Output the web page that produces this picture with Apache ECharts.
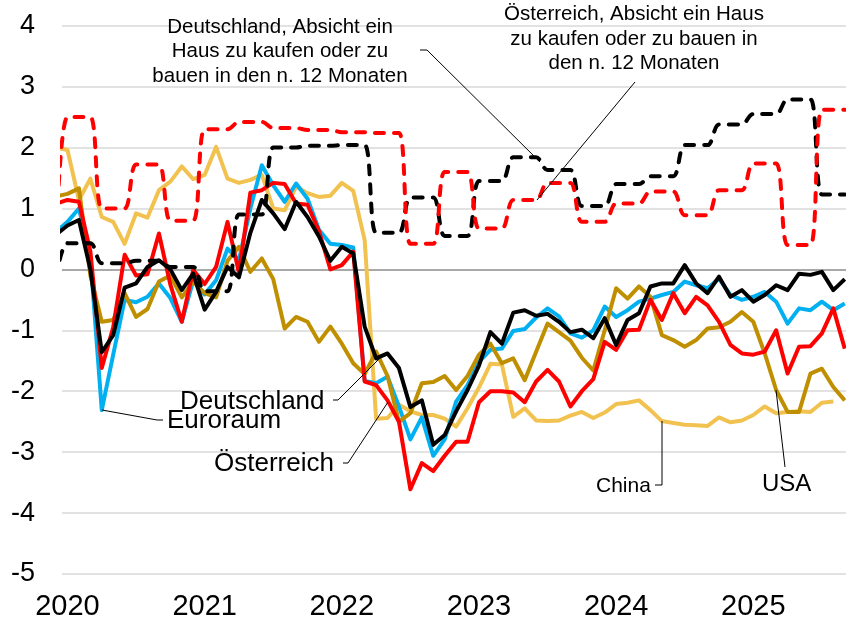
<!DOCTYPE html>
<html>
<head>
<meta charset="utf-8">
<script src="https://cdn.jsdelivr.net/npm/echarts@6.0.0/dist/echarts.min.js"></script>
<style>
  html, body { margin: 0; padding: 0; background: #fff; }
  #chart { width: 846px; height: 622px; }
</style>
</head>
<body>
<div id="chart"></div>
<script>
// monthly values, Dec 2019 .. Sep 2025 (first one sits just left of the plot)
var euroraum = [0.62, 0.78, 1.0, 0.2, -2.31, -1.4, -0.5, -0.54, -0.45, -0.23, -0.47, -0.86, -0.18,
  -0.41, -0.18, 0.34, 0.15, 1.0, 1.71, 1.38, 1.11, 1.41, 1.16, 0.65, 0.42,
  0.4, 0.36, -1.83, -1.87, -1.76, -2.25, -2.79, -2.43, -3.06, -2.79, -2.17, -1.9,
  -1.52, -1.32, -1.3, -1.01, -0.98, -0.79, -0.64, -0.77, -1.05, -1.12, -1.0, -0.61,
  -0.78, -0.67, -0.53, -0.48, -0.42, -0.37, -0.2, -0.26, -0.31, -0.15, -0.42, -0.5,
  -0.45, -0.37, -0.53, -0.89, -0.64, -0.67, -0.53, -0.67, -0.56]
var deutschland = [0.57, 0.72, 0.81, 0.0, -1.36, -1.08, -0.3, -0.23, 0.04, 0.15, 0.0, -0.34, -0.07,
  -0.66, -0.37, 0.04, -0.13, 0.6, 1.14, 0.92, 0.66, 1.11, 0.86, 0.54, 0.14,
  0.37, 0.26, -0.94, -1.46, -1.38, -1.62, -2.26, -2.15, -2.88, -2.72, -2.33, -1.98,
  -1.58, -1.03, -1.22, -0.71, -0.67, -0.76, -0.73, -0.86, -1.03, -0.99, -1.13, -0.8,
  -1.24, -0.83, -0.72, -0.28, -0.23, -0.23, 0.07, -0.23, -0.39, -0.12, -0.45, -0.34,
  -0.53, -0.42, -0.26, -0.34, -0.07, -0.09, -0.04, -0.34, -0.16]
var oesterreich = [1.08, 1.14, 1.11, 0.3, -1.62, -0.95, 0.24, -0.1, -0.08, 0.59, -0.25, -0.86, -0.01,
  -0.24, 0.04, 0.78, -0.05, 1.26, 1.3, 1.42, 1.4, 1.08, 1.06, 0.63, 0.0,
  0.07, 0.29, -1.84, -1.9, -2.15, -2.5, -3.61, -3.18, -3.31, -3.06, -2.83, -2.83,
  -2.18, -2.0, -2.0, -2.02, -2.18, -1.84, -1.65, -1.84, -2.25, -2.0, -1.8, -1.19,
  -1.32, -1.0, -0.99, -0.5, -0.83, -0.39, -0.72, -0.45, -0.59, -0.86, -1.24, -1.38,
  -1.4, -1.35, -1.0, -1.71, -1.27, -1.26, -1.05, -0.64, -1.3]
var usa = [1.2, 1.24, 1.33, -0.1, -0.86, -0.83, -0.39, -0.78, -0.65, -0.2, -0.1, -0.46, -0.2,
  -0.39, -0.46, 0.14, 0.37, -0.04, 0.18, -0.16, -0.97, -0.78, -0.86, -1.19, -0.94,
  -1.22, -1.54, -1.72, -1.35, -1.75, -2.5, -2.36, -1.87, -1.85, -1.75, -1.98, -1.75,
  -1.4, -1.22, -1.54, -1.46, -1.82, -1.35, -0.89, -1.03, -1.17, -1.45, -1.66, -1.0,
  -0.31, -0.48, -0.28, -0.45, -1.08, -1.16, -1.27, -1.16, -0.97, -0.95, -0.86, -0.7,
  -0.86, -1.38, -1.98, -2.34, -2.34, -1.71, -1.63, -1.93, -2.15]
var china = [2.0, 1.96, 1.14, 1.49, 0.86, 0.78, 0.42, 0.92, 0.85, 1.3, 1.44, 1.69, 1.48,
  1.55, 2.01, 1.49, 1.42, 1.47, 1.55, 1.0, 0.97, 1.36, 1.25, 1.19, 1.21,
  1.42, 1.29, 0.48, -2.45, -2.44, -2.22, -2.33, -2.39, -2.39, -2.45, -2.58, -2.28,
  -1.94, -1.55, -1.56, -2.42, -2.28, -2.48, -2.49, -2.48, -2.4, -2.34, -2.44, -2.35,
  -2.21, -2.19, -2.15, -2.31, -2.49, -2.52, -2.55, -2.56, -2.57, -2.43, -2.51, -2.48,
  -2.39, -2.25, -2.36, -2.34, -2.33, -2.34, -2.19, -2.17, null]
// Absicht ein Haus zu kaufen oder zu bauen (quarterly survey, shown per month)
var hausDE = [-0.15, 0.43, 0.43, 0.43, 0.1, 0.1, 0.1, 0.14, 0.14, 0.14, 0.04, 0.04, 0.04,
  -0.36, -0.36, -0.36, 0.9, 0.9, 0.9, 2.0, 2.0, 2.0, 2.03, 2.03, 2.03,
  2.04, 2.04, 2.04, 0.6, 0.6, 0.6, 1.18, 1.18, 1.18, 0.55, 0.55, 0.55,
  1.45, 1.45, 1.45, 1.84, 1.84, 1.84, 1.63, 1.63, 1.63, 1.04, 1.04, 1.04,
  1.4, 1.4, 1.4, 1.53, 1.53, 1.53, 2.04, 2.04, 2.04, 2.38, 2.38, 2.38,
  2.55, 2.55, 2.55, 2.79, 2.79, 2.79, 1.23, 1.23, 1.23]
var hausAT = [0.45, 2.5, 2.5, 2.5, 1.0, 1.0, 1.0, 1.72, 1.72, 1.72, 0.8, 0.8, 0.8,
  2.3, 2.3, 2.3, 2.42, 2.42, 2.42, 2.32, 2.32, 2.32, 2.29, 2.29, 2.29,
  2.25, 2.25, 2.25, 2.24, 2.24, 2.24, 0.42, 0.42, 0.42, 1.6, 1.6, 1.6,
  0.67, 0.67, 0.67, 1.14, 1.14, 1.14, 1.42, 1.42, 1.42, 0.78, 0.78, 0.78,
  1.08, 1.08, 1.08, 1.28, 1.28, 1.28, 0.89, 0.89, 0.89, 1.3, 1.3, 1.3,
  1.74, 1.74, 1.74, 0.4, 0.4, 0.4, 2.62, 2.62, 2.62]

var yearTicks = [0, 12, 24, 36, 48, 60]
var yearLabels = ['2020', '2021', '2022', '2023', '2024', '2025']

var FONT = '"Liberation Sans", Arial, sans-serif'

function toPoints(arr) {
  // index 0 is Dec 2019 -> month -1
  return arr.map(function (v, i) { return [i - 1, v] })
}

function solid(name, color, arr) {
  return {
    name: name,
    type: 'line',
    data: toPoints(arr),
    showSymbol: false,
    connectNulls: false,
    lineStyle: { color: color, width: 4, join: 'round' },
    itemStyle: { color: color }
  }
}

function dashed(name, color, arr) {
  return {
    name: name,
    type: 'line',
    data: toPoints(arr),
    showSymbol: false,
    smooth: 0.35,
    lineStyle: { color: color, width: 4, type: [9, 10], cap: 'round' },
    itemStyle: { color: color }
  }
}

var gridColors = ['#d9d9d9', '#d9d9d9', '#d9d9d9', '#d9d9d9', '#d9d9d9', '#8c8c8c',
  '#d9d9d9', '#d9d9d9', '#d9d9d9', '#d9d9d9']

function txt(text, x, y, size, align, vAlign, lh) {
  return {
    type: 'text',
    z: 100,
    style: {
      text: text, x: x, y: y,
      font: size + 'px ' + FONT,
      fill: '#000',
      textAlign: align,
      textVerticalAlign: vAlign,
      lineHeight: lh || size
    }
  }
}

function leader(points) {
  return {
    type: 'polyline',
    z: 100,
    shape: { points: points },
    style: { stroke: '#000', lineWidth: 1, fill: null }
  }
}

var chart = echarts.init(document.getElementById('chart'), null, { renderer: 'canvas' })

chart.setOption({
  animation: false,
  backgroundColor: '#fff',
  grid: { left: 62, right: 0, top: 25.7, bottom: 48 },
  xAxis: {
    type: 'value',
    min: -0.48,
    max: 68.11,
    axisLine: { show: false },
    axisTick: { show: false },
    splitLine: { show: false },
    axisLabel: {
      customValues: yearTicks,
      formatter: function (v) { return yearLabels[yearTicks.indexOf(v)] },
      fontFamily: FONT,
      fontSize: 29,
      color: '#000',
      margin: 18
    }
  },
  yAxis: {
    type: 'value',
    min: -5,
    max: 4,
    interval: 1,
    axisLine: { show: false },
    axisTick: { show: false },
    axisLabel: {
      fontFamily: FONT,
      fontSize: 27,
      color: '#000',
      margin: 27
    },
    splitLine: { lineStyle: { color: gridColors, width: 1.5 } }
  },
  series: [
    solid('China', '#f2c250', china),
    solid('Euroraum', '#00b0f0', euroraum),
    solid('USA', '#bf8f00', usa),
    solid('Österreich', '#ff0000', oesterreich),
    solid('Deutschland', '#000000', deutschland),
    dashed('Deutschland, Absicht ein Haus zu kaufen oder zu bauen in den n. 12 Monaten', '#000000', hausDE),
    dashed('Österreich, Absicht ein Haus zu kaufen oder zu bauen in den n. 12 Monaten', '#ff0000', hausAT)
  ],
  graphic: [
    txt('Deutschland, Absicht ein\nHaus zu kaufen oder zu\nbauen in den n. 12 Monaten', 280, 14.75, 20.5, 'center', 'top', 24.5),
    txt('Österreich, Absicht ein Haus\nzu kaufen oder zu bauen in\nden n. 12 Monaten', 634, 2.5, 20.5, 'center', 'top', 24.5),
    txt('Deutschland', 180, 402, 26, 'left', 'middle'),
    txt('Euroraum', 167, 421, 26, 'left', 'middle'),
    txt('Österreich', 214, 464, 26, 'left', 'middle'),
    txt('China', 596, 486, 21, 'left', 'middle'),
    txt('USA', 762, 484, 24, 'left', 'middle'),
    leader([[420, 50], [427, 50], [540, 162]]),
    leader([[635, 82], [537, 200]]),
    leader([[333, 400], [338, 400], [380, 358]]),
    leader([[102, 410], [157, 420], [163, 420]]),
    leader([[343, 463], [348, 463], [388, 402]]),
    leader([[655, 485], [662, 485], [662, 421]]),
    leader([[776, 390], [785, 467]])
  ]
})
</script>
</body>
</html>
